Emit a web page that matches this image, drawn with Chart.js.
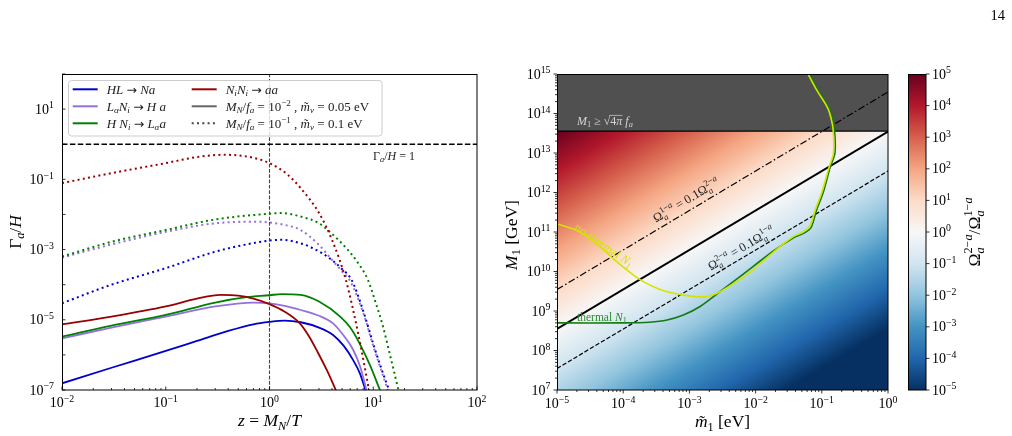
<!DOCTYPE html>
<html>
<head>
<meta charset="utf-8">
<script src="https://cdn.jsdelivr.net/npm/chart.js@4.4.1/dist/chart.umd.min.js"></script>
<style>
  html, body { margin: 0; padding: 0; background: #fff; }
  #wrap { position: relative; width: 1012px; height: 436px; overflow: hidden; }
  canvas { position: absolute; left: 0; top: 0; }
</style>
</head>
<body>
<div id="wrap">
  <canvas id="rates" width="1012" height="436"></canvas>
  <canvas id="ratio" width="1012" height="436"></canvas>
  <canvas id="cbar" width="1012" height="436"></canvas>
</div>
<script>
// ---------- left panel : Gamma_a / H against z = M_N / T ----------
const zAxisRange = [1e-2, 1e2];
const rateAxisRange = [1e-7, 1e2];
const equilibriumRate = 1;   // Gamma_a/H = 1
const zTransition = 1;       // z = 1

// solid : M_N/f_a = 1e-2, m_nu = 0.05 eV
const zHLsolid = [0.01, 0.03, 0.1, 0.2, 0.4, 0.7, 1, 1.4, 2, 3, 4.1, 5.2, 6.4, 7.5, 8.4];
const rHLsolid = [1.55e-7, 4.3e-7, 1.3e-6, 2.5e-6, 4.8e-6, 7.4e-6, 8.7e-6, 9.5e-6, 8.5e-6, 6.0e-6, 3.7e-6, 1.8e-6, 7.1e-7, 2.8e-7, 1.0e-7];
const zLNsolid = [0.01, 0.03, 0.1, 0.3, 0.7, 1, 1.4, 2, 3, 4.1, 5.2, 6.4, 7.5, 8.6];
const rLNsolid = [2.95e-6, 6.0e-6, 1.23e-5, 2.4e-5, 3.1e-5, 2.95e-5, 2.5e-5, 1.9e-5, 1.3e-5, 7.9e-6, 3.5e-6, 1.4e-6, 4.5e-7, 1.0e-7];
const zHNsolid = [0.01, 0.03, 0.1, 0.3, 0.6, 1, 1.3, 2, 3, 4.8, 6, 7.4, 9.3, 11.6];
const rHNsolid = [3.3e-6, 6.8e-6, 1.38e-5, 3.1e-5, 4.4e-5, 5.0e-5, 5.4e-5, 5.1e-5, 3.3e-5, 1.23e-5, 6.0e-6, 2.1e-6, 5.1e-7, 1.0e-7];
const zNNsolid = [0.01, 0.03, 0.1, 0.2, 0.34, 0.5, 0.7, 1, 1.4, 1.96, 2.4, 2.9, 3.6, 4.36];
const rNNsolid = [7.4e-6, 1.23e-5, 2.4e-5, 4.0e-5, 5.1e-5, 4.9e-5, 4.0e-5, 2.8e-5, 1.7e-5, 7.9e-6, 3.4e-6, 1.23e-6, 3.5e-7, 1.0e-7];

// dotted : M_N/f_a = 1e-1, m_nu = 0.1 eV
const zHLdot = [0.01, 0.03, 0.1, 0.3, 0.6, 1, 1.3, 2, 3, 4, 5, 6.2, 8, 10.2, 12, 14.2];
const rHLdot = [2.95e-5, 1.0e-4, 2.95e-4, 8.7e-4, 1.4e-3, 1.8e-3, 1.9e-3, 1.5e-3, 8.9e-4, 5.0e-4, 2.8e-4, 1.35e-4, 1.8e-5, 1.7e-6, 4.0e-7, 1.0e-7];
const zLNdot = [0.01, 0.03, 0.1, 0.3, 0.8, 1, 1.5, 2, 3, 4, 5, 6, 8, 10, 12, 13.8];
const rLNdot = [5.9e-4, 1.4e-3, 3.2e-3, 5.6e-3, 6.2e-3, 5.9e-3, 4.8e-3, 3.6e-3, 1.35e-3, 5.1e-4, 2.4e-4, 1.26e-4, 1.6e-5, 1.8e-6, 3.5e-7, 1.0e-7];
const zHNdot = [0.01, 0.03, 0.1, 0.3, 1, 1.3, 2, 3, 4, 5.5, 7, 8.9, 10.5, 12.4, 14.5, 17.5];
const rHNdot = [6.3e-4, 1.66e-3, 3.6e-3, 7.2e-3, 1.05e-2, 1.1e-2, 8.7e-3, 5.6e-3, 2.8e-3, 1.1e-3, 4.5e-4, 1.35e-4, 3.2e-5, 6.5e-6, 1.0e-6, 1.0e-7];
const zNNdot = [0.01, 0.03, 0.1, 0.2, 0.36, 0.6, 1, 1.5, 2, 3, 4, 5.45, 7.2, 9.1];
const rNNdot = [7.8e-2, 0.15, 0.29, 0.43, 0.50, 0.45, 0.29, 0.135, 5.6e-2, 1.1e-2, 1.9e-3, 1.35e-4, 3.7e-6, 1.0e-7];

// ---------- right panel : M_1 against m~_1 ----------
const m1Range = [1e-5, 1];
const bigM1Range = [1e7, 1e15];
const perturbativeM1 = 3.6e13;          // M_1 >= sqrt(4 pi) f_a
const contourEnds = [1e-5, 1];           // m~_1 at both ends of the straight contours
const ratioOneM1 = [3.5e8, 3.5e13];      // Omega2/Omega1 = 1
const ratioTenM1 = [3.5e9, 3.5e14];      // Omega2/Omega1 = 10
const ratioTenthM1 = [3.5e7, 3.5e12];    // Omega2/Omega1 = 0.1
const thermalM = [1e-5, 1e-4, 2.5e-4, 4.6e-4, 8.1e-4, 1.45e-3, 2.9e-3, 5.8e-3, 1.86e-2, 3.8e-2, 5.5e-2, 6.9e-2, 8.3e-2, 0.105, 0.135, 0.158, 0.155, 0.138, 0.123, 0.087, 0.065];
const thermalM1 = [5.0e8, 5.0e8, 5.2e8, 5.9e8, 7.9e8, 1.3e9, 3.1e9, 7.4e9, 3.3e10, 7.2e10, 9.5e10, 1.3e11, 3.5e11, 1e12, 4.6e12, 1e13, 4e13, 1e14, 1.6e14, 4e14, 1e15];
const nonThermalM = [1.0e-5, 2.1e-5, 4.5e-5, 7.9e-5, 1.8e-4, 3.6e-4, 6.5e-4, 1.15e-3, 1.8e-3, 2.6e-3, 3.6e-3, 7.2e-3, 1.9e-2, 3.7e-2, 5.2e-2, 6.6e-2, 7.9e-2, 0.10, 0.13, 0.15, 0.148, 0.132, 0.117, 0.083, 0.062];
const nonThermalM1 = [1.6e11, 1.05e11, 4.2e10, 1.8e10, 6.2e9, 3.5e9, 2.7e9, 2.35e9, 2.3e9, 2.8e9, 3.8e9, 8.1e9, 3.2e10, 7.6e10, 1.0e11, 1.4e11, 3.5e11, 1e12, 4.6e12, 1e13, 4e13, 1e14, 1.6e14, 4e14, 1e15];

// colour bar (Omega2/Omega1), RdBu reversed, low -> high
const cbarRange = [1e-5, 1e5];
const rdbuStops = ['#053061', '#2166ac', '#4393c3', '#92c5de', '#d1e5f0', '#f7f7f7', '#fddbc7', '#f4a582', '#d6604d', '#b2182b', '#67001f'];

const BLUE = '#0000cd', PURPLE = '#9370db', GREEN = '#008000', RED = '#990000';
const YELLOW = '#d4e400';
const SERIF = '"Liberation Serif", "DejaVu Serif", serif';
const TICK = 14;
const LABEL = 17.5;

// ---------- tiny TeX-ish text renderer ----------
function parseTex(str, math) {
  const out = [];
  let i = 0;
  const grab = () => {
    if (str[i] === '{') {
      let depth = 1, j = i + 1;
      while (depth > 0 && j < str.length) {
        if (str[j] === '{') depth++;
        else if (str[j] === '}') depth--;
        j++;
      }
      const g = str.slice(i + 1, j - 1);
      i = j;
      return g;
    }
    return str[i++];
  };
  while (i < str.length) {
    const c = str[i];
    if (c === '$') { math = !math; i++; continue; }
    if (math && (c === '_' || c === '^')) {
      const node = { script: true, sub: null, sup: null };
      i++;
      node[c === '_' ? 'sub' : 'sup'] = parseTex(grab(), true);
      const other = c === '_' ? '^' : '_';
      if (str[i] === other) { i++; node[other === '_' ? 'sub' : 'sup'] = parseTex(grab(), true); }
      out.push(node);
      continue;
    }
    if (math && str.startsWith('\\sqrt', i)) { i += 5; out.push({ sqrt: parseTex(grab(), true) }); continue; }
    if (math && str.startsWith('\\tilde', i)) { i += 6; out.push({ t: grab(), it: true, tilde: true }); continue; }
    out.push({ t: math && c === '-' ? '\u2212' : c, it: math && /[A-Za-z\u03b1-\u03c9]/.test(c) });
    i++;
  }
  return out;
}

function layTex(ctx, nodes, x, y, size, draw) {
  let cx = x;
  for (const n of nodes) {
    if (n.script) {
      const s = size * 0.7;
      const both = n.sub && n.sup;
      let w = 0;
      if (n.sup) w = Math.max(w, layTex(ctx, n.sup, cx, y - size * (both ? 0.42 : 0.38), s, draw));
      if (n.sub) w = Math.max(w, layTex(ctx, n.sub, cx, y + size * (both ? 0.26 : 0.2), s, draw));
      cx += w;
    } else if (n.sqrt) {
      ctx.font = `${size}px ${SERIF}`;
      const rw = ctx.measureText('\u221a').width;
      if (draw) ctx.fillText('\u221a', cx, y);
      const w = layTex(ctx, n.sqrt, cx + rw, y, size, draw);
      if (draw) {
        ctx.lineWidth = 0.7;
        ctx.beginPath();
        ctx.moveTo(cx + rw * 0.85, y - size * 0.8);
        ctx.lineTo(cx + rw + w, y - size * 0.8);
        ctx.stroke();
      }
      cx += rw + w;
    } else {
      if (n.t === '\u2192') ctx.font = `${size * 0.95}px "DejaVu Sans", sans-serif`;
      else ctx.font = `${n.it ? 'italic ' : ''}${size}px ${SERIF}`;
      const w = ctx.measureText(n.t).width;
      if (draw) ctx.fillText(n.t, cx, y);
      if (n.tilde && draw) {
        ctx.font = `${size}px ${SERIF}`;
        const tw = ctx.measureText('\u02dc').width;
        ctx.fillText('\u02dc', cx + (w - tw) / 2 + size * 0.06, y);
      }
      cx += w;
    }
  }
  return cx - x;
}

function drawTex(ctx, src, x, y, o) {
  const nodes = parseTex(src, false);
  ctx.save();
  ctx.textBaseline = 'alphabetic';
  ctx.textAlign = 'left';
  ctx.fillStyle = o.color || '#000';
  ctx.strokeStyle = ctx.fillStyle;
  const w = layTex(ctx, nodes, 0, 0, o.size, false);
  ctx.translate(x, y);
  if (o.angle) ctx.rotate(o.angle);
  const x0 = o.align === 'center' ? -w / 2 : o.align === 'right' ? -w : 0;
  const y0 = o.middle ? o.size * 0.33 : 0;
  layTex(ctx, nodes, x0, y0, o.size, true);
  ctx.restore();
  return w;
}

// ---------- axis helpers ----------
function logTicks(min, max) {
  const out = [];
  for (let e = Math.floor(Math.log10(min)); e <= Math.ceil(Math.log10(max)); e++) {
    for (let k = 1; k <= 9; k++) {
      const v = k * Math.pow(10, e);
      if (v >= min * 0.999 && v <= max * 1.001) out.push({ v, major: k === 1, e });
    }
  }
  return out;
}

// o.pos: bottom/left/right, o.dir: 1 outward, -1 inward
function drawAxis(ctx, scale, ca, o) {
  ctx.save();
  ctx.strokeStyle = '#000';
  ctx.lineWidth = 0.8;
  for (const t of logTicks(scale.min, scale.max)) {
    if (!t.major && !o.minor) continue;
    const len = t.major ? 3.5 : 2;
    const p = scale.getPixelForValue(t.v);
    ctx.beginPath();
    if (o.pos === 'bottom') { ctx.moveTo(p, ca.bottom); ctx.lineTo(p, ca.bottom + o.dir * len); }
    else if (o.pos === 'left') { ctx.moveTo(ca.left, p); ctx.lineTo(ca.left - o.dir * len, p); }
    else { ctx.moveTo(ca.right, p); ctx.lineTo(ca.right + o.dir * len, p); }
    ctx.stroke();
    if (t.major && o.label(t.e)) {
      const txt = `$10^{${t.e}}$`;
      if (o.pos === 'bottom') drawTex(ctx, txt, p, o.at, { size: TICK, align: 'center' });
      else if (o.pos === 'left') drawTex(ctx, txt, o.at, p, { size: TICK, align: 'right', middle: true });
      else drawTex(ctx, txt, o.at, p, { size: TICK, align: 'left', middle: true });
    }
  }
  ctx.restore();
}

function frame(ctx, ca) {
  ctx.save();
  ctx.strokeStyle = '#000';
  ctx.lineWidth = 1;
  ctx.strokeRect(ca.left + 0.5, ca.top + 0.5, ca.right - ca.left - 0.5, ca.bottom - ca.top - 0.5);
  ctx.restore();
}

const pts = (xs, ys) => xs.map((x, i) => ({ x, y: ys[i] }));

function baseOptions(area, xr, yr) {
  return {
    responsive: false,
    animation: false,
    devicePixelRatio: 1,
    events: [],
    layout: { padding: { left: area[0], right: 1012 - area[1], top: area[2], bottom: 436 - area[3] } },
    plugins: { legend: { display: false }, tooltip: { enabled: false } },
    elements: { point: { radius: 0 } },
    scales: {
      x: { type: 'logarithmic', min: xr[0], max: xr[1], display: false },
      y: { type: 'logarithmic', min: yr[0], max: yr[1], display: false }
    }
  };
}

// ---------- left chart ----------
function rateCurve(xs, ys, color, dotted) {
  return {
    data: pts(xs, ys),
    borderColor: color,
    borderWidth: dotted ? 2 : 1.8,
    borderDash: dotted ? [2, 3.3] : [],
    pointRadius: 0,
    fill: false,
    cubicInterpolationMode: 'monotone',
    clip: 0
  };
}

const legendRows = [
  { col: 0, row: 0, color: BLUE, dash: [], text: '$HL \u2192 Na$' },
  { col: 0, row: 1, color: PURPLE, dash: [], text: '$L_\u03b1N_i \u2192 H a$' },
  { col: 0, row: 2, color: GREEN, dash: [], text: '$H N_i \u2192 L_\u03b1a$' },
  { col: 1, row: 0, color: RED, dash: [], text: '$N_iN_i \u2192 aa$' },
  { col: 1, row: 1, color: '#666666', dash: [], text: '$M_N/f_a = 10^{-2}$ , $\\tilde{m}_\u03bd = 0.05$ eV' },
  { col: 1, row: 2, color: '#444444', dash: [2, 3.3], text: '$M_N/f_a = 10^{-1}$ , $\\tilde{m}_\u03bd = 0.1$ eV' }
];

const rateDecor = {
  id: 'rateDecor',
  afterDraw(chart) {
    const ctx = chart.ctx, ca = chart.chartArea;
    frame(ctx, ca);
    drawAxis(ctx, chart.scales.x, ca, { pos: 'bottom', dir: -1, minor: true, label: () => true, at: 407 });
    drawAxis(ctx, chart.scales.y, ca, { pos: 'left', dir: -1, minor: false, label: e => Math.abs(e) % 2 === 1, at: 54 });
    drawTex(ctx, '$\u0393_a/H$', 15, (ca.top + ca.bottom) / 2, { size: LABEL, align: 'center', middle: true, angle: -Math.PI / 2 });
    drawTex(ctx, '$z = M_N/T$', (ca.left + ca.right) / 2, 426, { size: LABEL, align: 'center' });
    drawTex(ctx, '$\u0393_a/H = 1$', 373, 159.5, { size: 12, color: '#222' });

    // legend
    ctx.save();
    ctx.beginPath();
    ctx.roundRect(68.5, 80.5, 313.5, 55.5, 3);
    ctx.fillStyle = 'rgba(255,255,255,0.8)';
    ctx.fill();
    ctx.strokeStyle = '#cccccc';
    ctx.lineWidth = 1;
    ctx.stroke();
    for (const r of legendRows) {
      const y = 89.3 + r.row * 17;
      const lx = r.col ? 191.7 : 72.7;
      const tx = r.col ? 225.7 : 106.7;
      ctx.beginPath();
      ctx.setLineDash(r.dash);
      ctx.strokeStyle = r.color;
      ctx.lineWidth = 2;
      ctx.moveTo(lx, y);
      ctx.lineTo(lx + 25, y);
      ctx.stroke();
      ctx.setLineDash([]);
      drawTex(ctx, r.text, tx, y, { size: 13, middle: true, color: '#222' });
    }
    ctx.restore();

    drawTex(ctx, '14', 1005, 19.5, { size: 14.5, align: 'right' });
  }
};

new Chart(document.getElementById('rates'), {
  type: 'line',
  data: {
    datasets: [
      { data: pts(zAxisRange, [equilibriumRate, equilibriumRate]), borderColor: '#000', borderWidth: 1.5, borderDash: [5.5, 2.4], pointRadius: 0, clip: 0 },
      { data: pts([zTransition, zTransition], rateAxisRange), borderColor: '#444', borderWidth: 1.1, borderDash: [3.7, 1.6], pointRadius: 0, clip: 0 },
      rateCurve(zNNdot, rNNdot, RED, true),
      rateCurve(zHNdot, rHNdot, GREEN, true),
      rateCurve(zLNdot, rLNdot, PURPLE, true),
      rateCurve(zHLdot, rHLdot, BLUE, true),
      rateCurve(zNNsolid, rNNsolid, RED, false),
      rateCurve(zHNsolid, rHNsolid, GREEN, false),
      rateCurve(zLNsolid, rLNsolid, PURPLE, false),
      rateCurve(zHLsolid, rHLsolid, BLUE, false)
    ]
  },
  options: baseOptions([62, 477, 74, 390], zAxisRange, rateAxisRange),
  plugins: [rateDecor]
});

// ---------- right chart ----------
const heatmap = {
  id: 'heatmap',
  beforeDatasetsDraw(chart) {
    const ctx = chart.ctx, ca = chart.chartArea;
    const xs = chart.scales.x, ys = chart.scales.y;
    const p1 = [xs.getPixelForValue(contourEnds[0]), ys.getPixelForValue(ratioOneM1[0])];
    const p2 = [xs.getPixelForValue(contourEnds[1]), ys.getPixelForValue(ratioOneM1[1])];
    const q = [xs.getPixelForValue(contourEnds[0]), ys.getPixelForValue(ratioTenM1[0])];
    let dx = p2[0] - p1[0], dy = p2[1] - p1[1];
    const L = Math.hypot(dx, dy);
    dx /= L; dy /= L;
    const nx = -dy, ny = dx;
    const h = (q[0] - p1[0]) * nx + (q[1] - p1[1]) * ny;   // pixels per decade of the ratio
    const lo = Math.log10(cbarRange[0]), hi = Math.log10(cbarRange[1]);
    const g = ctx.createLinearGradient(p1[0] + lo * h * nx, p1[1] + lo * h * ny, p1[0] + hi * h * nx, p1[1] + hi * h * ny);
    rdbuStops.forEach((c, k) => g.addColorStop(k / (rdbuStops.length - 1), c));
    ctx.save();
    ctx.fillStyle = g;
    ctx.fillRect(ca.left, ca.top, ca.right - ca.left, ca.bottom - ca.top);
    ctx.restore();
  },
  afterDraw(chart) {
    const ctx = chart.ctx, ca = chart.chartArea;
    const xs = chart.scales.x, ys = chart.scales.y;
    frame(ctx, ca);
    drawAxis(ctx, xs, ca, { pos: 'bottom', dir: 1, minor: true, label: () => true, at: 408 });
    drawAxis(ctx, ys, ca, { pos: 'left', dir: 1, minor: true, label: () => true, at: 550.5 });
    drawTex(ctx, '$M_1$ [GeV]', 511, (ca.top + ca.bottom) / 2 + 3, { size: LABEL, align: 'center', middle: true, angle: -Math.PI / 2 });
    drawTex(ctx, '$\\tilde{m}_1$ [eV]', (ca.left + ca.right) / 2, 427, { size: LABEL, align: 'center' });

    const ang = Math.atan2(ys.getPixelForValue(ratioOneM1[1]) - ys.getPixelForValue(ratioOneM1[0]),
                           xs.getPixelForValue(contourEnds[1]) - xs.getPixelForValue(contourEnds[0]));
    drawTex(ctx, '$\u03a9_a^{1-a} = 0.1\u03a9_a^{2-a}$', 686, 200, { size: 12.5, align: 'center', middle: true, angle: ang, color: '#222' });
    drawTex(ctx, '$\u03a9_a^{2-a} = 0.1\u03a9_a^{1-a}$', 741, 248, { size: 12.5, align: 'center', middle: true, angle: ang, color: '#222' });
    drawTex(ctx, '$M_1 \u2265 \\sqrt{4\u03c0} f_a$', 577, 125, { size: 12, color: '#d4d4d4' });
    drawTex(ctx, 'thermal $N_1$', 577, 320.5, { size: 11.5, color: '#2a8a2a' });
    drawTex(ctx, 'no-thermal $N_1$', 604, 245, { size: 12, align: 'center', middle: true, angle: 0.6, color: YELLOW });
  }
};

new Chart(document.getElementById('ratio'), {
  type: 'line',
  data: {
    datasets: [
      { data: pts(m1Range, [perturbativeM1, perturbativeM1]), fill: 'end', backgroundColor: '#505050', borderColor: '#000', borderWidth: 1.2, pointRadius: 0, clip: 0, order: 10 },
      { data: pts(contourEnds, ratioTenM1), borderColor: '#000', borderWidth: 1.2, borderDash: [7, 2.5, 1.5, 2.5], pointRadius: 0, clip: 0, order: 6 },
      { data: pts(contourEnds, ratioOneM1), borderColor: '#000', borderWidth: 2, pointRadius: 0, clip: 0, order: 5 },
      { data: pts(contourEnds, ratioTenthM1), borderColor: '#000', borderWidth: 1.2, borderDash: [4.4, 2], pointRadius: 0, clip: 0, order: 4 },
      { data: pts(thermalM, thermalM1), borderColor: '#137a13', borderWidth: 1.6, tension: 0.3, pointRadius: 0, clip: 0, order: 2 },
      { data: pts(nonThermalM, nonThermalM1), borderColor: YELLOW, borderWidth: 1.6, tension: 0.3, pointRadius: 0, clip: 0, order: 1 }
    ]
  },
  options: baseOptions([557, 888, 74, 390], m1Range, bigM1Range),
  plugins: [heatmap]
});

// ---------- colour bar ----------
const colourBar = {
  id: 'colourBar',
  afterDraw(chart) {
    const ctx = chart.ctx, ca = chart.chartArea, ys = chart.scales.y;
    const g = ctx.createLinearGradient(0, ys.getPixelForValue(cbarRange[0]), 0, ys.getPixelForValue(cbarRange[1]));
    rdbuStops.forEach((c, k) => g.addColorStop(k / (rdbuStops.length - 1), c));
    ctx.save();
    ctx.fillStyle = g;
    ctx.fillRect(ca.left, ca.top, ca.right - ca.left, ca.bottom - ca.top);
    ctx.restore();
    frame(ctx, ca);
    drawAxis(ctx, ys, ca, { pos: 'right', dir: 1, minor: false, label: () => true, at: 932 });
    drawTex(ctx, '$\u03a9_a^{2-a}/\u03a9_a^{1-a}$', 974, (ca.top + ca.bottom) / 2, { size: LABEL, align: 'center', middle: true, angle: -Math.PI / 2 });
  }
};

new Chart(document.getElementById('cbar'), {
  type: 'line',
  data: { datasets: [{ data: [] }] },
  options: baseOptions([908, 926, 74, 390], [1, 10], cbarRange),
  plugins: [colourBar]
});
</script>
</body>
</html>
